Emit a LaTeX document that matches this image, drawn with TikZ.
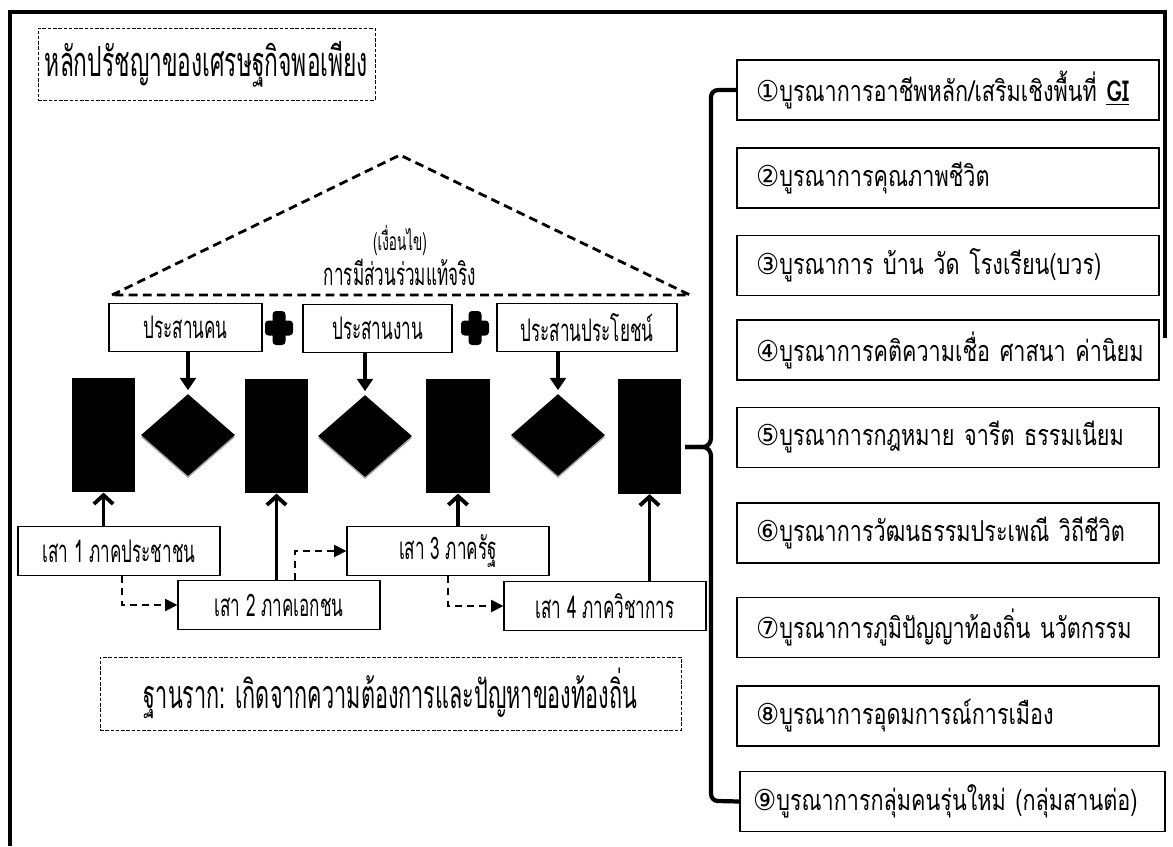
\documentclass[tikz,border=0pt]{standalone}
\usepackage{fontspec}
\setmainfont[Script=Thai]{Loma}
\newfontfamily\thainarrow[Script=Thai, FakeStretch=0.55]{Loma}
\newfontfamily\thainorm[Script=Thai, FakeStretch=0.75]{Loma}
\newfontfamily\circfont[FakeStretch=0.9]{DejaVu Sans}
\usetikzlibrary{arrows.meta,shapes.geometric,shadows}

\begin{document}
\begin{tikzpicture}[x=0.02cm, y=-0.02cm,
    box/.style={draw=black, line width=0.8pt, fill=white, inner sep=0pt, minimum width=4.04cm, minimum height=0.97cm, font=\thainarrow\fontsize{17.7}{20}\selectfont},
    dashbox/.style={draw=black, line width=0.5pt, dash pattern=on 2pt off 1pt, inner sep=0pt},
    pillar/.style={fill=black, inner sep=0pt, minimum width=1.27cm, minimum height=2.29cm},
    gem/.style={shape=diamond, fill=black, inner sep=0pt, minimum width=1.88cm, minimum height=1.64cm, drop shadow={shadow xshift=0pt, shadow yshift=-1.2pt, fill=gray!70, opacity=1}},
    plusarm/.style={fill=black, rounded corners=2pt, inner sep=0pt},
    listbox/.style={draw=black, line width=0.8pt, fill=white, inner xsep=0.38cm, inner ysep=0pt, minimum height=1.2cm, text width=7.68cm, align=left, font=\thainorm\fontsize{16.4}{18}\selectfont},
    roof/.style={line width=1.6pt, dash pattern=on 5pt off 3pt},
    downarr/.style={line width=2.2pt, -{Triangle[length=7pt,width=9pt]}},
    uparr/.style={line width=2.2pt, -{Straight Barb[length=5pt,width=11pt]}},
    dasharr/.style={line width=0.9pt, dash pattern=on 4pt off 3pt, -{Triangle[length=7pt,width=7pt]}},
    bracket/.style={line width=2.4pt},
]
\useasboundingbox[fill=white] (0,0) rectangle (1173,846);

% outer frame
\draw[line width=2.8pt] (10,846) -- (10,12) -- (1165,12) -- (1165,338);

% title
\node[dashbox, minimum width=6.74cm, minimum height=1.44cm, font=\thainarrow\fontsize{23.6}{26}\selectfont] (title) at (206.5,64) {หลักปรัชญาของเศรษฐกิจพอเพียง};

% roof
\coordinate (roofl) at (112,295);
\coordinate (roofr) at (690,295);
\coordinate (apex) at (400,155);
\draw[roof] (roofl) -- (apex) -- (roofr) -- cycle;
\node[font=\thainarrow\fontsize{14}{16}\selectfont] (cond) at (400,240) {(เงื่อนไข)};
\node[font=\thainarrow\fontsize{17.7}{20}\selectfont] (part) at (400,272) {การมีส่วนร่วมแท้จริง};

% top boxes
\node[box, minimum width=3.06cm] (kon) at (185.5,327.5) {ประสานคน};
\node[box, minimum width=2.98cm] (ngan) at (377.5,328.5) {ประสานงาน};
\node[box, minimum width=3.6cm] (prayot) at (587,327.5) {ประสานประโยชน์};
\node[plusarm, minimum width=0.56cm, minimum height=0.3cm] (plus1) at (279,328) {};
\node[plusarm, minimum width=0.26cm, minimum height=0.68cm] at (plus1) {};
\node[plusarm, minimum width=0.56cm, minimum height=0.3cm] (plus2) at (475,328) {};
\node[plusarm, minimum width=0.26cm, minimum height=0.68cm] at (plus2) {};

% pillars and diamonds
\node[pillar] (p1) at (103.5,435) {};
\node[gem] (d1) at (188,435) {};
\node[pillar] (p2) at (276.5,436) {};
\node[gem] (d2) at (365,436) {};
\node[pillar] (p3) at (458,436) {};
\node[gem] (d3) at (558,435) {};
\node[pillar] (p4) at (649.5,436.5) {};

\draw[downarr, shorten >=2pt] (kon.south -| d1.north) -- (d1.north);
\draw[downarr, shorten >=2pt] (ngan.south -| d2.north) -- (d2.north);
\draw[downarr, shorten >=2pt] (prayot.south -| d3.north) -- (d3.north);

% bottom boxes
\node[box] (s1) at (119,551) {เสา 1 ภาคประชาชน};
\node[box] (s2) at (279,605) {เสา 2 ภาคเอกชน};
\node[box] (s3) at (448,551) {เสา 3 ภาครัฐ};
\node[box] (s4) at (605,606) {เสา 4 ภาควิชาการ};

\draw[uparr] (s1.north -| p1.south) -- (p1.south);
\draw[uparr] (s2.north -| p2.south) -- (p2.south);
\draw[uparr] (s3.north -| p3.south) -- (p3.south);
\draw[uparr] (s4.north -| p4.south) -- (p4.south);

\draw[dasharr] ([xshift=0.06cm]s1.south) |- (s2.west);
\draw[dasharr] ([xshift=0.32cm]s2.north) |- (s3.west);
\draw[dasharr] (s3.south) |- (s4.west);

% foundation
\node[dashbox, minimum width=11.62cm, minimum height=1.46cm, font=\thainarrow\fontsize{22.4}{25}\selectfont] (base) at (390.5,693.5) {ฐานราก: เกิดจากความต้องการและปัญหาของท้องถิ่น};

% list
\node[listbox] (b1) at (948,90) {\mbox{{\circfont ①}บูรณาการอาชีพหลัก/เสริมเชิงพื้นที่ \underline{\textbf{GI}}}};
\node[listbox] (b2) at (948,178) {\mbox{{\circfont ②}บูรณาการคุณภาพชีวิต}};
\node[listbox] (b3) at (948,265.5) {\mbox{{\circfont ③}บูรณาการ บ้าน วัด โรงเรียน(บวร)}};
\node[listbox] (b4) at (948,350) {\mbox{{\circfont ④}บูรณาการคติความเชื่อ ศาสนา ค่านิยม}};
\node[listbox] (b5) at (948,437.5) {\mbox{{\circfont ⑤}บูรณาการกฎหมาย จารีต ธรรมเนียม}};
\node[listbox] (b6) at (948,533) {\mbox{{\circfont ⑥}บูรณาการวัฒนธรรมประเพณี วิถีชีวิต}};
\node[listbox] (b7) at (948,627.5) {\mbox{{\circfont ⑦}บูรณาการภูมิปัญญาท้องถิ่น นวัตกรรม}};
\node[listbox] (b8) at (948,716) {\mbox{{\circfont ⑧}บูรณาการอุดมการณ์การเมือง}};
\node[listbox, inner xsep=0.26cm, text width=7.98cm] (b9) at (952.5,801.5) {\mbox{{\circfont ⑨}บูรณาการกลุ่มคนรุ่นใหม่ (กลุ่มสานต่อ)}};

% brace
\coordinate (tip) at (685,447);
\draw[bracket] (b1.west) -- (718,90) to[out=180,in=90] (711,97) -- (711,438)
    to[out=-90,in=0] (703,447) -- (tip);
\draw[bracket] (tip) -- (703,447) to[out=0,in=90] (711,456) -- (711,794)
    to[out=-90,in=180] (718,801) -- (b9.west);
\end{tikzpicture}
\end{document}
